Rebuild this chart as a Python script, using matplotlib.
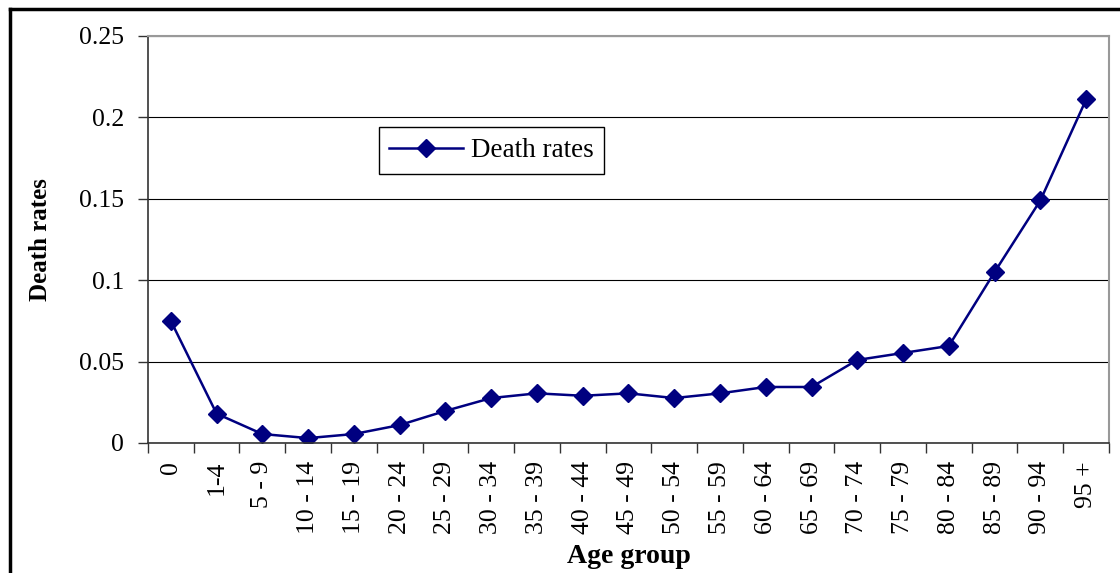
import numpy as np
import matplotlib
matplotlib.use("Agg")
import matplotlib.pyplot as plt
from matplotlib.lines import Line2D

age_groups = ["0", "1-4", "5 - 9", "10 - 14", "15 - 19", "20 - 24", "25 - 29",
              "30 - 34", "35 - 39", "40 - 44", "45 - 49", "50 - 54", "55 - 59",
              "60 - 64", "65 - 69", "70 - 74", "75 - 79", "80 - 84", "85 - 89",
              "90 - 94", "95 +"]
death_rates = [0.075, 0.018, 0.0055, 0.003, 0.0055, 0.011, 0.0197,
               0.0276, 0.0305, 0.029, 0.0305, 0.0276, 0.0305,
               0.0344, 0.0344, 0.051, 0.0553, 0.0596, 0.105,
               0.149, 0.211]
y_ticks = [0, 0.05, 0.1, 0.15, 0.2, 0.25]
y_labels = ["0", "0.05", "0.1", "0.15", "0.2", "0.25"]

plt.rcParams['font.family'] = ['Liberation Serif', 'DejaVu Serif']

fig = plt.figure(figsize=(11.2, 5.73), dpi=100)
ax = fig.add_axes([0.1321, 0.2269, 0.8581, 0.7103])

x = np.arange(len(age_groups))
ax.plot(x, death_rates, color="#000080", lw=1.8, marker="D", markersize=9,
        markerfacecolor="#000080", markeredgecolor="#000080", label="Death rates")

ax.set_xlim(-0.5, len(age_groups) - 0.5)
ax.set_ylim(0, 0.25)
ax.set_yticks(y_ticks)
ax.set_yticklabels(y_labels, fontsize=18.5)
ax.set_xticks(x)
ax.set_xticklabels(age_groups, rotation=90, fontsize=18.5)
# tick marks sit between the categories
ax.set_xticks(np.arange(-0.5, len(age_groups)), minor=True)
ax.tick_params(axis="x", which="major", length=0, pad=13)
ax.tick_params(axis="x", which="minor", length=7, width=1, color="#333333")
ax.tick_params(axis="y", length=7, width=1, color="#333333", pad=10)

ax.yaxis.grid(True, color="black", lw=0.8)
ax.set_axisbelow(True)
for s in ["top", "right"]:
    ax.spines[s].set_color("#999999")
    ax.spines[s].set_linewidth(1.5)
for s in ["left", "bottom"]:
    ax.spines[s].set_color("#333333")
    ax.spines[s].set_linewidth(1.2)

ax.set_ylabel("Death rates", fontsize=18, fontweight="bold")
ax.yaxis.set_label_coords(-0.112, 0.5)
ax.yaxis.label.set_va("center")
ax.set_xlabel("Age group", fontsize=20, fontweight="bold")
ax.xaxis.set_label_coords(0.5, -0.28)
ax.xaxis.label.set_va("center")

leg = ax.legend(loc="upper left", bbox_to_anchor=(0.240, 0.776), borderaxespad=0,
                fancybox=False, edgecolor="black", fontsize=19.5, handlelength=2.7,
                borderpad=0.4, handletextpad=0.3, framealpha=1)
leg.get_frame().set_linewidth(1.0)

# outer chart frame (left and top edges)
fig.add_artist(Line2D([10 / 1120, 10 / 1120], [0, 1 - 9 / 573], transform=fig.transFigure,
                      color="black", lw=2.5))
fig.add_artist(Line2D([10 / 1120, 1], [1 - 9 / 573, 1 - 9 / 573], transform=fig.transFigure,
                      color="black", lw=2.5))

fig.savefig("out.png", dpi=100)
